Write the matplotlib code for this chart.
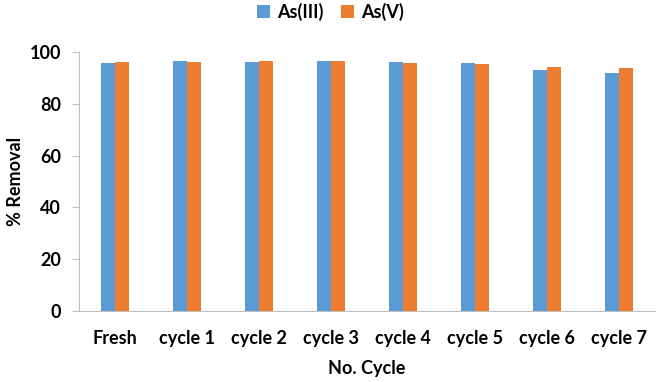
import matplotlib
matplotlib.use("Agg")
import matplotlib.pyplot as plt
import numpy as np

categories = ["Fresh", "cycle 1", "cycle 2", "cycle 3", "cycle 4", "cycle 5", "cycle 6", "cycle 7"]
as3 = [96.0, 96.6, 96.1, 96.5, 96.3, 96.0, 93.2, 91.9]
as5 = [96.3, 96.3, 96.6, 96.5, 96.0, 95.5, 94.2, 93.9]
yticks = [0, 20, 40, 60, 80, 100]

plt.rcParams['font.family'] = ['Lato', 'DejaVu Sans']
plt.rcParams['font.weight'] = 'bold'

W, H = 661, 382
fig = plt.figure(figsize=(W/100, H/100), dpi=100)
left, right = 79/W, 655/W
bottom, top = 1 - 310.7/H, 1 - 52.3/H
ax = fig.add_axes([left, bottom, right-left, top-bottom])

x = np.arange(len(categories))
bw = 0.195
ax.bar(x - bw/2, as3, width=bw, color="#5B9BD5", label="As(III)")
ax.bar(x + bw/2, as5, width=bw, color="#ED7D31", label="As(V)")

ax.set_xlim(-0.5, len(categories) - 0.5)
ax.set_ylim(0, 100)
ax.set_yticks(yticks)
ax.set_xticks(x)
ax.set_xticklabels(categories, fontsize=13, fontweight='bold')
ax.tick_params(axis='x', length=0, pad=14)
ax.tick_params(axis='y', length=5, color='#BFBFBF', labelsize=13, pad=8)
for lbl in ax.get_yticklabels():
    lbl.set_fontweight('bold')

for s in ['top', 'right']:
    ax.spines[s].set_visible(False)
ax.spines['left'].set_color('#BFBFBF')
ax.spines['bottom'].set_color('#BFBFBF')

ax.set_xlabel("No. Cycle", fontsize=13, fontweight='bold', labelpad=9)
ax.set_ylabel("% Removal", fontsize=13, fontweight='bold', labelpad=4)

fig.legend(loc='upper center', bbox_to_anchor=(0.5, 1.035), ncol=2, frameon=False,
           handlelength=0.7, handleheight=0.7, handletextpad=0.4,
           columnspacing=1.0, prop={'weight': 'bold', 'size': 13})

fig.savefig("out.png", dpi=100)
